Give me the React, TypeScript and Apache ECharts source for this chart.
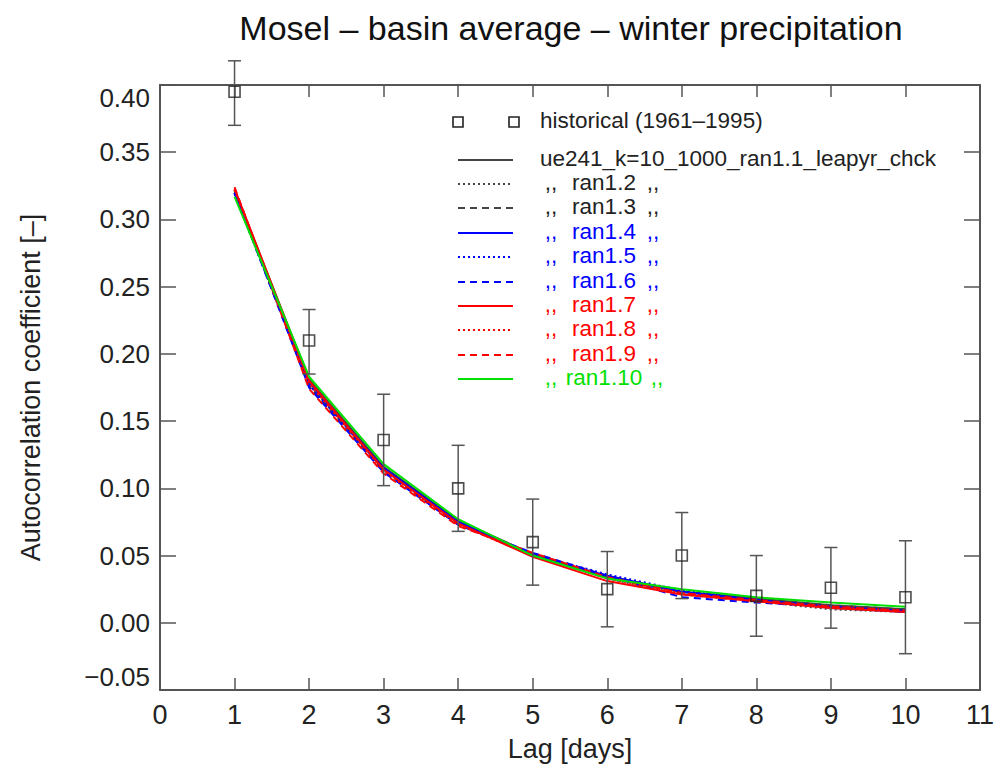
import React, { useEffect, useRef } from "react";
import * as echarts from "echarts";

const lags = [1, 2, 3, 4, 5, 6, 7, 8, 9, 10];
const histValues = [0.395, 0.21, 0.136, 0.1, 0.06, 0.025, 0.05, 0.02, 0.026, 0.019];
const histLow = [0.37, 0.185, 0.102, 0.068, 0.028, -0.003, 0.018, -0.01, -0.004, -0.023];
const histHigh = [0.418, 0.233, 0.17, 0.132, 0.092, 0.053, 0.082, 0.05, 0.056, 0.061];

const simNames = [
  "ran1.1", "ran1.2", "ran1.3", "ran1.4", "ran1.5",
  "ran1.6", "ran1.7", "ran1.8", "ran1.9", "ran1.10",
];
const simValues = [
  [0.322, 0.181, 0.116, 0.076, 0.051, 0.034, 0.023, 0.018, 0.013, 0.010],
  [0.320, 0.177, 0.114, 0.074, 0.050, 0.033, 0.021, 0.016, 0.010, 0.008],
  [0.321, 0.176, 0.113, 0.073, 0.051, 0.035, 0.023, 0.018, 0.013, 0.010],
  [0.320, 0.179, 0.115, 0.075, 0.050, 0.035, 0.023, 0.017, 0.012, 0.009],
  [0.319, 0.177, 0.114, 0.074, 0.051, 0.036, 0.024, 0.017, 0.011, 0.008],
  [0.320, 0.175, 0.112, 0.073, 0.052, 0.035, 0.019, 0.015, 0.012, 0.008],
  [0.323, 0.180, 0.114, 0.074, 0.049, 0.031, 0.021, 0.016, 0.011, 0.008],
  [0.322, 0.178, 0.113, 0.073, 0.050, 0.033, 0.022, 0.016, 0.012, 0.009],
  [0.324, 0.174, 0.111, 0.072, 0.052, 0.034, 0.022, 0.017, 0.012, 0.009],
  [0.317, 0.183, 0.118, 0.077, 0.050, 0.033, 0.025, 0.019, 0.015, 0.012],
];
const simColors = [
  "#444444", "#444444", "#444444",
  "#0000ff", "#0000ff", "#0000ff",
  "#ff0000", "#ff0000", "#ff0000",
  "#00e000",
];
const simDash: (string | number[])[] = [
  "solid", [2, 3], [7, 5],
  "solid", [2, 3], [7, 5],
  "solid", [2, 3], [7, 5],
  "solid",
];
const legendTextColors = [
  "#222222", "#222222", "#222222",
  "#0000ff", "#0000ff", "#0000ff",
  "#ff0000", "#ff0000", "#ff0000",
  "#00e000",
];

const FONT = "'Liberation Sans', Arial, Helvetica, sans-serif";
const LEG_FONT = `22.5px ${FONT}`;

export default function App() {
  const ref = useRef<HTMLDivElement>(null);
  useEffect(() => {
    if (!ref.current) return;
    const chart = echarts.init(ref.current, undefined, { renderer: "svg" });

    const axisColor = "#555555";

    const series: any[] = simValues.map((vals, i) => ({
      type: "line",
      name: simNames[i],
      data: lags.map((l, j) => [l, vals[j]]),
      showSymbol: false,
      symbol: "none",
      lineStyle: { color: simColors[i], width: 2, type: simDash[i] },
      z: 2 + i,
    }));

    series.push({
      type: "custom",
      name: "errorbars",
      clip: false,
      data: lags.map((l, j) => [l, histLow[j], histHigh[j]]),
      renderItem: (params: any, api: any) => {
        const x = api.value(0);
        const lo = api.coord([x, api.value(1)]);
        const hi = api.coord([x, api.value(2)]);
        const w = 6.5;
        const st = { stroke: "#555555", lineWidth: 1.5 };
        return {
          type: "group",
          children: [
            { type: "line", shape: { x1: lo[0], y1: lo[1], x2: hi[0], y2: hi[1] }, style: st },
            { type: "line", shape: { x1: lo[0] - w, y1: lo[1], x2: lo[0] + w, y2: lo[1] }, style: st },
            { type: "line", shape: { x1: hi[0] - w, y1: hi[1], x2: hi[0] + w, y2: hi[1] }, style: st },
          ],
        };
      },
      z: 20,
    });

    series.push({
      type: "scatter",
      name: "historical",
      data: lags.map((l, j) => [l, histValues[j]]),
      symbol: "rect",
      symbolSize: 11,
      itemStyle: { color: "rgba(255,255,255,0)", borderColor: "#222222", borderWidth: 1.6 },
      z: 21,
    });

    const graphics: any[] = [];
    [458, 514].forEach((cx) => {
      graphics.push({
        type: "rect",
        shape: { x: cx - 5, y: 122 - 5, width: 10, height: 10 },
        style: { fill: "none", stroke: "#222222", lineWidth: 1.6 },
      });
    });
    graphics.push({
      type: "text",
      x: 540,
      y: 120,
      style: { text: "historical (1961–1995)", fill: "#222222", font: LEG_FONT, verticalAlign: "middle", align: "left" },
    });
    const rowY = [160, 184, 208, 233, 257, 282, 306, 330, 355, 379];
    simNames.forEach((nm, i) => {
      const y = rowY[i];
      const dash = simDash[i];
      graphics.push({
        type: "line",
        shape: { x1: 458, y1: y, x2: 513, y2: y },
        style: {
          stroke: simColors[i],
          lineWidth: 2,
          lineDash: dash === "solid" ? null : (dash as number[]),
        },
      });
      if (i === 0) {
        graphics.push({
          type: "text",
          x: 540,
          y: y - 2,
          style: { text: "ue241_k=10_1000_ran1.1_leapyr_chck", fill: "#222222", font: LEG_FONT, verticalAlign: "middle", align: "left" },
        });
      } else {
        const col = legendTextColors[i];
        graphics.push({
          type: "text",
          x: 551,
          y: y - 2,
          style: { text: ",,", fill: col, font: LEG_FONT, verticalAlign: "middle", align: "center" },
        });
        graphics.push({
          type: "text",
          x: 604,
          y: y - 2,
          style: { text: nm, fill: col, font: LEG_FONT, verticalAlign: "middle", align: "center" },
        });
        graphics.push({
          type: "text",
          x: i === 9 ? 657 : 653,
          y: y - 2,
          style: { text: ",,", fill: col, font: LEG_FONT, verticalAlign: "middle", align: "center" },
        });
      }
    });

    const option: any = {
      animation: false,
      backgroundColor: "#ffffff",
      title: {
        text: "Mosel – basin average – winter precipitation",
        left: 566,
        top: 6,
        textAlign: "center",
        textStyle: { fontFamily: FONT, fontSize: 34, fontWeight: "normal", color: "#111111" },
      },
      grid: { left: 160, right: 17, top: 85, bottom: 81 },
      xAxis: [
        {
          type: "value",
          min: 0,
          max: 11,
          interval: 1,
          position: "bottom",
          name: "Lag [days]",
          nameLocation: "middle",
          nameGap: 45,
          nameTextStyle: { fontFamily: FONT, fontSize: 27, color: "#222222" },
          axisLine: { show: true, onZero: false, lineStyle: { color: axisColor, width: 2 } },
          axisTick: { show: true, inside: true, length: 12, lineStyle: { color: axisColor, width: 1.5 } },
          axisLabel: { fontFamily: FONT, fontSize: 27, color: "#222222", margin: 11 },
          splitLine: { show: false },
        },
        {
          type: "value",
          min: 0,
          max: 11,
          interval: 1,
          position: "top",
          axisLine: { show: true, onZero: false, lineStyle: { color: axisColor, width: 2 } },
          axisTick: { show: true, inside: true, length: 12, lineStyle: { color: axisColor, width: 1.5 } },
          axisLabel: { show: false },
          splitLine: { show: false },
        },
      ],
      yAxis: [
        {
          type: "value",
          min: -0.05,
          max: 0.4,
          interval: 0.05,
          position: "left",
          name: "Autocorrelation coefficient [–]",
          nameLocation: "middle",
          nameGap: 116,
          nameTextStyle: { fontFamily: FONT, fontSize: 27, color: "#222222" },
          axisLine: { show: true, onZero: false, lineStyle: { color: axisColor, width: 2 } },
          axisTick: { show: true, inside: true, length: 16, lineStyle: { color: axisColor, width: 1.5 } },
          axisLabel: {
            fontFamily: FONT,
            fontSize: 26,
            color: "#222222",
            margin: 10,
            formatter: (v: number) => (v < 0 ? "−" + Math.abs(v).toFixed(2) : v.toFixed(2)),
            verticalAlignMaxLabel: "top",
            verticalAlignMinLabel: "bottom",
          },
          splitLine: { show: false },
        },
        {
          type: "value",
          min: -0.05,
          max: 0.4,
          interval: 0.05,
          position: "right",
          axisLine: { show: true, onZero: false, lineStyle: { color: axisColor, width: 2 } },
          axisTick: { show: true, inside: true, length: 16, lineStyle: { color: axisColor, width: 1.5 } },
          axisLabel: { show: false },
          splitLine: { show: false },
        },
      ],
      series,
      graphic: graphics,
    };
    chart.setOption(option);
    return () => chart.dispose();
  }, []);
  return (
    <div
      ref={ref}
      style={{ position: "fixed", left: 0, top: 0, width: 997, height: 771 }}
    />
  );
}
